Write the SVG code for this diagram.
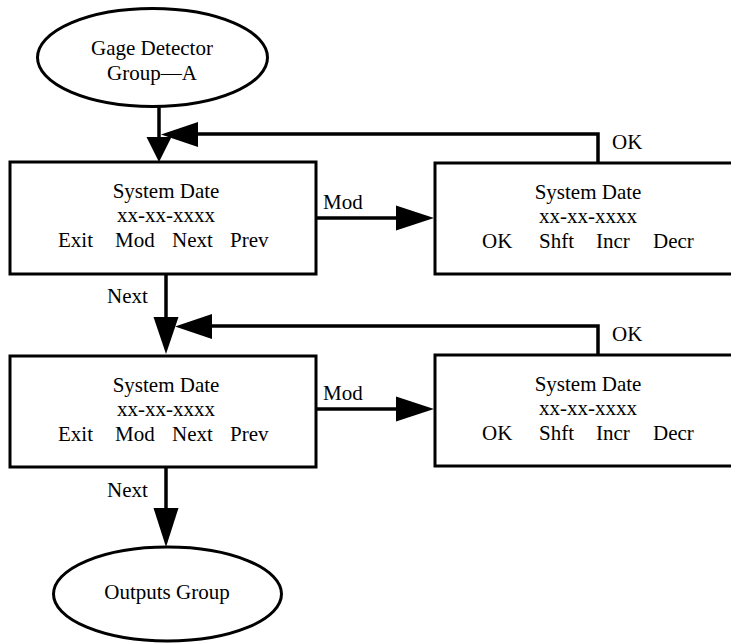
<svg xmlns="http://www.w3.org/2000/svg" width="731" height="643" viewBox="0 0 731 643">
  <style>
    .shape { fill: #ffffff; stroke: #000000; stroke-width: 3; }
    .line { fill: none; stroke: #000000; stroke-width: 3.5; }
    .head { fill: #000000; stroke: none; }
    text { font-family: "Liberation Serif", "Times New Roman", serif; font-size: 21px; fill: #000000; }
    .mid { text-anchor: middle; }
  </style>
  <rect width="731" height="643" fill="#ffffff"/>

  <!-- connectors -->
  <g id="connectors">
    <!-- start ellipse to first date screen -->
    <line class="line" x1="159" y1="107" x2="159" y2="140"/>
    <polygon class="head" points="146.5,137 171.5,137 159,162"/>
    <!-- OK return from first edit screen -->
    <polyline class="line" points="598,163 598,134 196,134"/>
    <polygon class="head" points="198,122 198,147 161,134.5"/>
    <!-- Mod to first edit screen -->
    <line class="line" x1="316" y1="218" x2="400" y2="218"/>
    <polygon class="head" points="396,205.5 396,230.5 434,218"/>
    <!-- Next to second date screen -->
    <line class="line" x1="166" y1="274" x2="166" y2="320"/>
    <polygon class="head" points="153.5,317 178.5,317 166,354"/>
    <!-- OK return from second edit screen -->
    <polyline class="line" points="598,355 598,326 210,326"/>
    <polygon class="head" points="212,314 212,339 175,326.5"/>
    <!-- Mod to second edit screen -->
    <line class="line" x1="316" y1="409" x2="400" y2="409"/>
    <polygon class="head" points="396,396.5 396,421.5 434,409"/>
    <!-- Next to outputs group -->
    <line class="line" x1="166" y1="467" x2="166" y2="511"/>
    <polygon class="head" points="153.5,508 178.5,508 166,547"/>

    <text x="323" y="209">Mod</text>
    <text x="323" y="400">Mod</text>
    <text x="612" y="149">OK</text>
    <text x="612" y="341">OK</text>
    <text x="107" y="303">Next</text>
    <text x="107" y="497">Next</text>
  </g>

  <!-- start node -->
  <g id="gage-detector">
    <ellipse class="shape" cx="152.5" cy="57.5" rx="115" ry="49"/>
    <text class="mid" x="152" y="55">Gage Detector</text>
    <text class="mid" x="152" y="80">Group—A</text>
  </g>

  <!-- first date screen -->
  <g id="date-view-1">
    <rect class="shape" x="10" y="162" width="306" height="112"/>
    <text class="mid" x="166" y="198">System Date</text>
    <text class="mid" x="166" y="222">xx-xx-xxxx</text>
    <text x="58" y="247">Exit</text>
    <text x="115" y="247">Mod</text>
    <text x="172" y="247">Next</text>
    <text x="230" y="247">Prev</text>
  </g>

  <!-- first edit screen -->
  <g id="date-edit-1">
    <rect class="shape" x="435" y="163" width="310" height="111"/>
    <text class="mid" x="588" y="199">System Date</text>
    <text class="mid" x="588" y="223">xx-xx-xxxx</text>
    <text x="482" y="248">OK</text>
    <text x="539" y="248">Shft</text>
    <text x="596" y="248">Incr</text>
    <text x="653" y="248">Decr</text>
  </g>

  <!-- second date screen -->
  <g id="date-view-2">
    <rect class="shape" x="10" y="356" width="306" height="111"/>
    <text class="mid" x="166" y="392">System Date</text>
    <text class="mid" x="166" y="416">xx-xx-xxxx</text>
    <text x="58" y="441">Exit</text>
    <text x="115" y="441">Mod</text>
    <text x="172" y="441">Next</text>
    <text x="230" y="441">Prev</text>
  </g>

  <!-- second edit screen -->
  <g id="date-edit-2">
    <rect class="shape" x="435" y="355" width="310" height="111"/>
    <text class="mid" x="588" y="391">System Date</text>
    <text class="mid" x="588" y="415">xx-xx-xxxx</text>
    <text x="482" y="440">OK</text>
    <text x="539" y="440">Shft</text>
    <text x="596" y="440">Incr</text>
    <text x="653" y="440">Decr</text>
  </g>

  <!-- end node -->
  <g id="outputs-group">
    <ellipse class="shape" cx="167.5" cy="594" rx="114" ry="47"/>
    <text class="mid" x="167" y="599">Outputs Group</text>
  </g>
</svg>
